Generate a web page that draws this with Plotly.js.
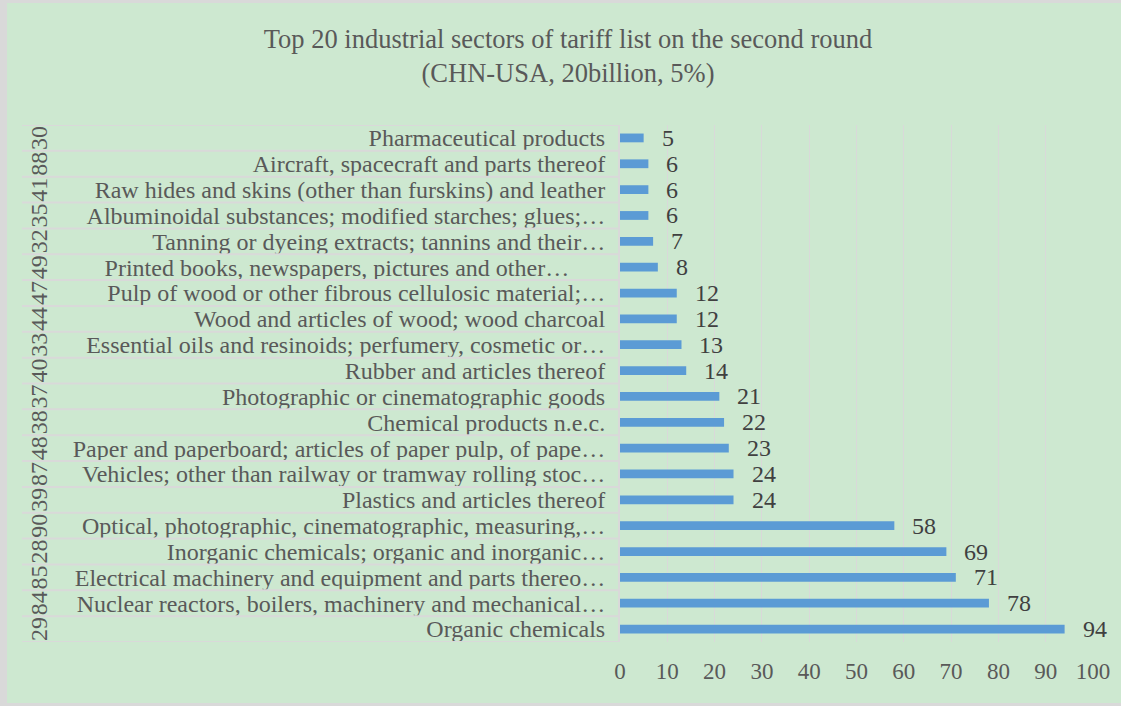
<!DOCTYPE html>
<html>
<head>
<meta charset="utf-8">
<script src="https://cdn.plot.ly/plotly-3.0.1.min.js"></script>
<style>
  html, body { margin: 0; padding: 0; background: #d9d9d9; width: 1121px; height: 706px; overflow: hidden; }
  #chart { position: absolute; left: 7px; top: 3px; width: 1114px; height: 700px; }
</style>
</head>
<body>
<div id="chart"></div>
<script>
// Sectors listed bottom to top (largest count first, drawn at the bottom)
const sectors = [
  "Organic chemicals",
  "Nuclear reactors, boilers, machinery and mechanical\u2026",
  "Electrical machinery and equipment and parts thereo\u2026",
  "Inorganic chemicals; organic and inorganic\u2026",
  "Optical, photographic, cinematographic, measuring,\u2026",
  "Plastics and articles thereof",
  "Vehicles; other than railway or tramway rolling stoc\u2026",
  "Paper and paperboard; articles of paper pulp, of pape\u2026",
  "Chemical products n.e.c.",
  "Photographic or cinematographic goods",
  "Rubber and articles thereof",
  "Essential oils and resinoids; perfumery, cosmetic or\u2026",
  "Wood and articles of wood; wood charcoal",
  "Pulp of wood or other fibrous cellulosic material;\u2026",
  "Printed books, newspapers, pictures and other\u2026\u00a0\u00a0\u00a0\u00a0\u00a0\u00a0",
  "Tanning or dyeing extracts; tannins and their\u2026",
  "Albuminoidal substances; modified starches; glues;\u2026",
  "Raw hides and skins (other than furskins) and leather",
  "Aircraft, spacecraft and parts thereof",
  "Pharmaceutical products"
];
const hsCodes = ["29","84","85","28","90","39","87","48","38","37","40","33","44","47","49","32","35","41","88","30"];
const counts = [94, 78, 71, 69, 58, 24, 24, 23, 22, 21, 14, 13, 12, 12, 8, 7, 6, 6, 6, 5];
const xTicks = [0, 10, 20, 30, 40, 50, 60, 70, 80, 90, 100];

const FONT = "Liberation Serif";
const TEXT = "#595959";
const SEP = "#d9d9d9";

const trace = {
  type: "bar",
  orientation: "h",
  x: counts,
  y: sectors,
  width: 0.34,
  marker: { color: "#5b9bd5" },
  hoverinfo: "x+y"
};

// value labels to the right of each bar
const valueLabels = counts.map((v, i) => ({
  x: v, y: sectors[i], xref: "x", yref: "y",
  text: String(v), showarrow: false,
  xanchor: "left", xshift: 16,
  font: { family: FONT, size: 24, color: "#404040" }
}));

// outer category level: HS chapter codes, rotated
const codeLabels = hsCodes.map((c, i) => ({
  x: -613 / 473 + 32 / 473, y: sectors[i], xref: "paper", yref: "y",
  text: c, showarrow: false, textangle: -90,
  xanchor: "center", yanchor: "middle",
  font: { family: FONT, size: 24, color: TEXT }
}));

// horizontal separators across the category label area
const separators = [];
for (let k = 0; k <= sectors.length; k++) {
  separators.push({
    type: "line", xref: "paper", yref: "y",
    x0: -598 / 473, x1: 0, y0: k - 0.5, y1: k - 0.5,
    line: { color: SEP, width: 2 }
  });
}

const layout = {
  width: 1114,
  height: 700,
  paper_bgcolor: "#cde8d0",
  plot_bgcolor: "#cde8d0",
  margin: { l: 613, r: 28, t: 122, b: 61 },
  showlegend: false,
  font: { family: FONT },
  title: {
    text: "Top 20 industrial sectors of tariff list on the second round<br>(CHN-USA, 20billion, 5%)",
    font: { family: FONT, size: 26.5, color: TEXT },
    x: 561 / 1114, xanchor: "center",
    y: 1 - 45 / 700, yanchor: "top"
  },
  xaxis: {
    range: [0, 100],
    tickmode: "array",
    tickvals: xTicks,
    ticktext: xTicks.map(String),
    showgrid: true,
    gridcolor: SEP,
    gridwidth: 1,
    zeroline: false,
    showline: false,
    ticks: "",
    ticklabelstandoff: 13,
    tickfont: { family: FONT, size: 23, color: TEXT },
    fixedrange: true
  },
  yaxis: {
    type: "category",
    categoryorder: "array",
    categoryarray: sectors,
    tickmode: "array",
    tickvals: sectors,
    ticktext: sectors,
    range: [-0.5, sectors.length - 0.5],
    showgrid: false,
    zeroline: false,
    showline: true,
    linecolor: SEP,
    linewidth: 2,
    ticks: "",
    ticklabelstandoff: 8,
    tickfont: { family: FONT, size: 24, color: TEXT },
    fixedrange: true
  },
  annotations: valueLabels.concat(codeLabels),
  shapes: separators
};

Plotly.newPlot("chart", [trace], layout, { displayModeBar: false, staticPlot: true });
</script>
</body>
</html>
